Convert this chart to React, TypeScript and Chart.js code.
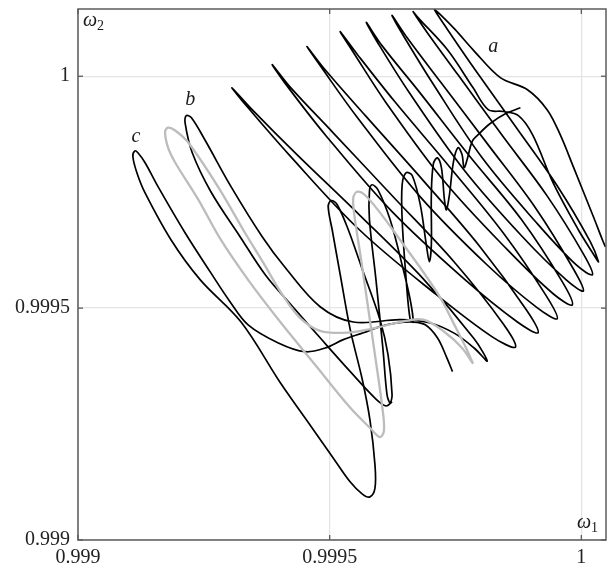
import React, { useEffect, useRef } from "react";
import { Chart, registerables } from "chart.js";
Chart.register(...registerables);

// Axis ticks
const xTicks = [0.999, 0.9995, 1];
const yTicks = [0.999, 0.9995, 1];

// Gray closed orbit
const grayW1 = [0.999785, 0.999763, 0.999730, 0.999686, 0.999640, 0.999590, 0.999535, 0.999481, 0.999441, 0.999406, 0.999368, 0.999332, 0.999278, 0.999219, 0.999193, 0.999179, 0.999173, 0.999179, 0.999193, 0.999239, 0.999284, 0.999338, 0.999402, 0.999471, 0.999541, 0.999580, 0.999600, 0.999608, 0.999604, 0.999590, 0.999575, 0.999561, 0.999549, 0.999547, 0.999555, 0.999569, 0.999600, 0.999640, 0.999680, 0.999720, 0.999751, 0.999771, 0.999785];
const grayW2 = [0.999380, 0.999414, 0.999447, 0.999475, 0.999470, 0.999457, 0.999447, 0.999451, 0.999479, 0.999529, 0.999598, 0.999662, 0.999762, 0.999857, 0.999883, 0.999889, 0.999880, 0.999846, 0.999814, 0.999734, 0.999647, 0.999561, 0.999470, 0.999378, 0.999285, 0.999242, 0.999222, 0.999237, 0.999291, 0.999399, 0.999511, 0.999615, 0.999701, 0.999738, 0.999751, 0.999745, 0.999706, 0.999647, 0.999587, 0.999522, 0.999457, 0.999414, 0.999380];

// Trajectory c
const curveCW1 = [
  0.999744, 0.999732, 0.999714, 0.999690, 0.999666, 0.999634, 0.999600, 0.999567, 0.999527, 0.999491,
  0.999451, 0.999398, 0.999338, 0.999302, 0.999264, 0.999213, 0.999159, 0.999133, 0.999119, 0.999113,
  0.999109, 0.999117, 0.999133, 0.999185, 0.999243, 0.999324, 0.999402, 0.999461, 0.999507, 0.999541,
  0.999565, 0.999580, 0.999590, 0.999590, 0.999580, 0.999565, 0.999541, 0.999521, 0.999505, 0.999497,
  0.999503, 0.999515, 0.999537, 0.999565, 0.999600, 0.999616, 0.999624, 0.999620, 0.999614, 0.999606,
  0.999592, 0.999579, 0.999579, 0.999584, 0.999596, 0.999620, 0.999644, 0.999660, 0.999666, 0.999660,
  0.999652, 0.999644, 0.999644, 0.999652, 0.999664, 0.999680, 0.999692, 0.999698, 0.999702, 0.999702,
  0.999706, 0.999714, 0.999722, 0.999728, 0.999732, 0.999738, 0.999746, 0.999755, 0.999763, 0.999767,
  0.999773, 0.999783, 0.999795, 0.999819, 0.999849, 0.999879];
const curveCW2 = [
  0.999363, 0.999395, 0.999436, 0.999464, 0.999470, 0.999468, 0.999460, 0.999447, 0.999432, 0.999414,
  0.999406, 0.999425, 0.999464, 0.999514, 0.999576, 0.999662, 0.999762, 0.999814, 0.999835, 0.999839,
  0.999827, 0.999792, 0.999749, 0.999647, 0.999561, 0.999470, 0.999339, 0.999248, 0.999177, 0.999125,
  0.999099, 0.999093, 0.999112, 0.999162, 0.999259, 0.999345, 0.999453, 0.999572, 0.999669, 0.999719,
  0.999732, 0.999723, 0.999669, 0.999583, 0.999475, 0.999399, 0.999313, 0.999296, 0.999313, 0.999410,
  0.999561, 0.999691, 0.999751, 0.999766, 0.999755, 0.999691, 0.999593, 0.999518, 0.999470, 0.999475,
  0.999561, 0.999691, 0.999766, 0.999792, 0.999786, 0.999723, 0.999637, 0.999600, 0.999637, 0.999745,
  0.999811, 0.999824, 0.999803, 0.999734, 0.999712, 0.999745, 0.999816, 0.999846, 0.999831, 0.999803,
  0.999820, 0.999859, 0.999874, 0.999898, 0.999919, 0.999932];

// Trajectory b (continuing through the fan to a)
const curveBW1 = [
  0.999624, 0.999612, 0.999590, 0.999541, 0.999481, 0.999425, 0.999372, 0.999322, 0.999264, 0.999227,
  0.999213, 0.999215, 0.999225, 0.999252, 0.999304, 0.999366, 0.999412, 0.999481, 0.999547, 0.999640,
  0.999700, 0.999749, 0.999787, 0.999813, 0.999787, 0.999686, 0.999561, 0.999433, 0.999346, 0.999306,
  0.999334, 0.999419, 0.999559, 0.999712, 0.999823, 0.999869, 0.999845, 0.999747, 0.999628, 0.999507,
  0.999423, 0.999386, 0.999412, 0.999491, 0.999624, 0.999767, 0.999873, 0.999914, 0.999891, 0.999799,
  0.999686, 0.999571, 0.999491, 0.999455, 0.999481, 0.999555, 0.999680, 0.999813, 0.999912, 0.999952,
  0.999930, 0.999845, 0.999738, 0.999628, 0.999555, 0.999521, 0.999545, 0.999612, 0.999728, 0.999853,
  0.999944, 0.999982, 0.999962, 0.999881, 0.999777, 0.999676, 0.999604, 0.999573, 0.999594, 0.999658,
  0.999767, 0.999883, 0.999970, 1.000004, 0.999984, 0.999909, 0.999815, 0.999720, 0.999654, 0.999624,
  0.999644, 0.999704, 0.999803, 0.999911, 0.999990, 1.000022, 1.000004, 0.999932, 0.999843, 0.999755,
  0.999694, 0.999666, 0.999676, 0.999734, 0.999785, 0.999815, 0.999845, 0.999875, 0.999903, 0.999944,
  0.999994, 1.000026, 1.000034, 1.000018, 0.999952, 0.999871, 0.999789, 0.999734, 0.999708, 0.999720,
  0.999749, 0.999785, 0.999839, 0.999893, 0.999932, 0.999958, 0.999984, 1.000024, 1.000042, 1.000048];
const curveBW2 = [
  0.999298, 0.999289, 0.999306, 0.999363, 0.999436, 0.999505, 0.999572, 0.999654, 0.999751, 0.999835,
  0.999898, 0.999915, 0.999911, 0.999863, 0.999762, 0.999654, 0.999587, 0.999503, 0.999470, 0.999475,
  0.999468, 0.999445, 0.999414, 0.999386, 0.999434, 0.999563, 0.999699, 0.999833, 0.999928, 0.999975,
  0.999937, 0.999831, 0.999669, 0.999529, 0.999438, 0.999416, 0.999466, 0.999600, 0.999738, 0.999878,
  0.999975, 1.000025, 0.999984, 0.999874, 0.999708, 0.999563, 0.999470, 0.999447, 0.999496, 0.999632,
  0.999775, 0.999915, 1.000014, 1.000064, 1.000023, 0.999911, 0.999740, 0.999593, 0.999501, 0.999477,
  0.999527, 0.999662, 0.999805, 0.999947, 1.000047, 1.000096, 1.000055, 0.999943, 0.999773, 0.999626,
  0.999531, 0.999507, 0.999557, 0.999691, 0.999829, 0.999969, 1.000066, 1.000116, 1.000075, 0.999965,
  0.999798, 0.999654, 0.999561, 0.999537, 0.999585, 0.999716, 0.999852, 0.999988, 1.000083, 1.000131,
  1.000092, 0.999986, 0.999824, 0.999684, 0.999593, 0.999572, 0.999617, 0.999742, 0.999872, 1.000003,
  1.000094, 1.000139, 1.000126, 1.000057, 0.999975, 0.999928, 0.999924, 0.999915, 0.999874, 0.999770,
  0.999669, 0.999613, 0.999600, 0.999643, 0.999764, 0.999889, 1.000014, 1.000101, 1.000144, 1.000133,
  1.000101, 1.000057, 0.999997, 0.999971, 0.999928, 0.999874, 0.999805, 0.999697, 0.999647, 0.999632];

// Curve labels (position in data units)
const labelText = ["a", "b", "c"];
const labelW1 = [0.999825, 0.999223, 0.999115];
const labelW2 = [1.000064, 0.999950, 0.999870];

const zip = (a: number[], b: number[]) => a.map((x, i) => ({ x, y: b[i] }));
const fmt = (v: number) => (v === 1 ? "1" : String(v));
const SERIF = '"Liberation Serif", "DejaVu Serif", serif';

const framePlugin = {
  id: "frame",
  afterDatasetsDraw(chart: any) {
    const { ctx, chartArea, scales } = chart;
    const { left, right, top, bottom } = chartArea;
    ctx.save();
    ctx.strokeStyle = "#5c5c5c";
    ctx.lineWidth = 1.5;
    ctx.strokeRect(left, top, right - left, bottom - top);
    ctx.lineWidth = 1.3;
    const seg = (x1: number, y1: number, x2: number, y2: number) => {
      ctx.beginPath();
      ctx.moveTo(x1, y1);
      ctx.lineTo(x2, y2);
      ctx.stroke();
    };
    xTicks.forEach((v) => {
      const px = scales.x.getPixelForValue(v);
      seg(px, bottom, px, bottom - 5);
      seg(px, top, px, top + 5);
    });
    yTicks.forEach((v) => {
      const py = scales.y.getPixelForValue(v);
      seg(left, py, left + 5, py);
      seg(right, py, right - 5, py);
    });
    ctx.fillStyle = "#1a1a1a";
    ctx.textAlign = "center";
    ctx.textBaseline = "middle";
    ctx.font = `italic 20px ${SERIF}`;
    labelText.forEach((t, i) => {
      ctx.fillText(t, scales.x.getPixelForValue(labelW1[i]), scales.y.getPixelForValue(labelW2[i]));
    });
    // axis names
    ctx.textAlign = "left";
    ctx.textBaseline = "alphabetic";
    ctx.font = `italic 20px ${SERIF}`;
    ctx.fillText("ω", left + 5, top + 17);
    ctx.font = `14px ${SERIF}`;
    ctx.fillText("2", left + 19, top + 21);
    ctx.font = `italic 20px ${SERIF}`;
    ctx.fillText("ω", right - 29, bottom - 12);
    ctx.font = `14px ${SERIF}`;
    ctx.fillText("1", right - 15, bottom - 8);
    ctx.restore();
  },
};

export default function App() {
  const ref = useRef<HTMLCanvasElement | null>(null);
  useEffect(() => {
    if (!ref.current) return;
    const lineDs = (data: any, color: string, width: number) => ({
      data,
      showLine: true,
      borderColor: color,
      borderWidth: width,
      pointRadius: 0,
      tension: 0.35,
      fill: false,
    });
    const chart = new Chart(ref.current, {
      type: "scatter",
      data: {
        datasets: [
          lineDs(zip(grayW1, grayW2), "rgb(188,188,188)", 2.3),
          lineDs(zip(curveCW1, curveCW2), "#000", 1.7),
          lineDs(zip(curveBW1, curveBW2), "#000", 1.7),
        ],
      },
      options: {
        animation: false,
        responsive: false,
        layout: { padding: { top: 9, right: 2, left: 0, bottom: 0 } },
        plugins: { legend: { display: false }, tooltip: { enabled: false } },
        scales: {
          x: {
            type: "linear",
            min: 0.999,
            max: 1.000049,
            afterBuildTicks: (s: any) => {
              s.ticks = xTicks.map((v) => ({ value: v }));
            },
            afterFit: (s: any) => {
              s.height = 33;
              s.paddingLeft = 0;
              s.paddingRight = 0;
            },
            ticks: {
              callback: (v: any) => fmt(Number(v)),
              font: { family: SERIF, size: 20 },
              color: "#222",
              padding: 6,
              maxRotation: 0,
              autoSkip: false,
            },
            grid: { color: "#e4e4e4", lineWidth: 1.3, drawTicks: false },
            border: { display: false },
          },
          y: {
            type: "linear",
            min: 0.999,
            max: 1.000145,
            afterBuildTicks: (s: any) => {
              s.ticks = yTicks.map((v) => ({ value: v }));
            },
            afterFit: (s: any) => {
              s.width = 78;
              s.paddingTop = 0;
              s.paddingBottom = 0;
            },
            ticks: {
              callback: (v: any) => fmt(Number(v)),
              font: { family: SERIF, size: 20 },
              color: "#222",
              padding: 8,
              autoSkip: false,
            },
            grid: { color: "#e4e4e4", lineWidth: 1.3, drawTicks: false },
            border: { display: false },
          },
        },
      } as any,
      plugins: [framePlugin],
    });
    return () => chart.destroy();
  }, []);
  return (
    <div style={{ position: "absolute", left: 0, top: 0, width: 608, height: 573, background: "#fff" }}>
      <canvas ref={ref} width={608} height={573} style={{ width: 608, height: 573 }} />
    </div>
  );
}
